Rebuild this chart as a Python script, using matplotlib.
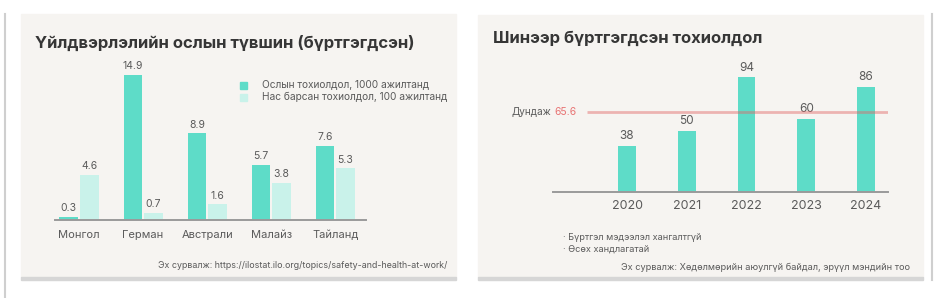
import numpy as np
import matplotlib
matplotlib.use("Agg")
import matplotlib.pyplot as plt
from matplotlib.patches import Rectangle
from matplotlib.lines import Line2D

# ==============================================================================
#                                   Data
# ==============================================================================

countries = ["Монгол", "Герман", "Австрали", "Малайз", "Тайланд"]
accidents_per_1000 = [0.3, 14.9, 8.9, 5.7, 7.6]
deaths_per_100 = [4.6, 0.7, 1.6, 3.8, 5.3]

years = ["2020", "2021", "2022", "2023", "2024"]
new_cases = [38, 50, 94, 60, 86]
avg_cases = 65.6

left_title = "Үйлдвэрлэлийн ослын түвшин (бүртгэгдсэн)"
right_title = "Шинээр бүртгэгдсэн тохиолдол"
legend_labels = ["Ослын тохиолдол, 1000 ажилтанд",
                 "Нас барсан тохиолдол, 100 ажилтанд"]
left_source = "Эх сурвалж: https://ilostat.ilo.org/topics/safety-and-health-at-work/"
right_notes = ["· Бүртгэл мэдээлэл хангалтгүй", "· Өсөх хандлагатай"]
right_source = "Эх сурвалж: Хөдөлмөрийн аюулгүй байдал, эрүүл мэндийн тоо"

# ==============================================================================
#                                   Style
# ==============================================================================

plt.rcParams['font.family'] = ['Inter', 'DejaVu Sans']

W, H = 941, 298
DARK = "#5edcc8"
LIGHT = "#c9f2ea"
PANEL = "#f6f4f1"
TXT = "#5a5a5a"
TITLE = "#363636"


def fx(px):
    return px / W


def fy(py):
    # pixel y measured from the top
    return 1 - py / H


def add_ax(fig, x0, y0, x1, y1):
    """axes from pixel box (top-left origin)"""
    ax = fig.add_axes([fx(x0), fy(y1), fx(x1 - x0), (y1 - y0) / H])
    ax.set_facecolor("none")
    for s in ["top", "right", "left"]:
        ax.spines[s].set_visible(False)
    ax.spines["bottom"].set_color("#9a9a9a")
    ax.spines["bottom"].set_linewidth(1.4)
    ax.set_yticks([])
    ax.tick_params(axis="x", length=0, colors=TXT)
    return ax


fig = plt.figure(figsize=(W / 100, H / 100), dpi=100)
fig.patch.set_facecolor("white")

# panels, shadows and side lines (behind the axes)
for x0, x1, y0 in [(21, 456, 14), (478, 923, 15)]:
    fig.patches.append(Rectangle((fx(x0), fy(277)), fx(x1 - x0), (277 - y0) / H,
                                 transform=fig.transFigure, color=PANEL, zorder=-2))
    fig.patches.append(Rectangle((fx(x0), fy(280)), fx(x1 - x0), 3 / H,
                                 transform=fig.transFigure, color="#d6d6d6", zorder=-2))
fig.add_artist(Line2D([fx(5), fx(5)], [fy(14), fy(298)], color="#cfcfcf", lw=1.5))
fig.add_artist(Line2D([fx(932), fx(932)], [fy(14), fy(280)], color="#cfcfcf", lw=1.5))

# ==============================================================================
#                               Left chart
# ==============================================================================

ax1 = add_ax(fig, 55, 60, 366, 220)
x = np.arange(len(countries))
bw = 0.29
off = 0.16
ax1.bar(x - off, accidents_per_1000, bw, color=DARK, zorder=2)
ax1.bar(x + off, deaths_per_100, bw, color=LIGHT, zorder=2)
for xi, a, d in zip(x, accidents_per_1000, deaths_per_100):
    ax1.text(xi - off, a + 0.4, f"{a}", ha="center", va="bottom",
             fontsize=7.5, color=TXT)
    ax1.text(xi + off, d + 0.4, f"{d}", ha="center", va="bottom",
             fontsize=7.5, color=TXT)
ax1.set_xlim(-0.375, 4.48)
ax1.set_ylim(0, 160 / 9.73)
ax1.set_xticks(x)
ax1.set_xticklabels(countries, fontsize=8)
ax1.tick_params(axis="x", pad=7)

fig.text(fx(35), fy(43), left_title, fontsize=12, fontweight="bold",
         color=TITLE, va="center", ha="left")

for i, (lab, col) in enumerate(zip(legend_labels, [DARK, LIGHT])):
    yc = 85 + i * 12
    fig.patches.append(Rectangle((fx(240), fy(yc + 3.5)), fx(7), 7 / H,
                                 transform=fig.transFigure, color=col))
    fig.text(fx(262), fy(yc), lab, fontsize=7.3, color=TXT, va="center")

fig.text(fx(447), fy(265), left_source, fontsize=6.4, color=TXT,
         ha="right", va="center")

# ==============================================================================
#                               Right chart
# ==============================================================================

ax2 = add_ax(fig, 553, 60, 888, 192)
xr = np.arange(len(years))
ax2.bar(xr, new_cases, 0.3, color=DARK, zorder=2)
for xi, v in zip(xr, new_cases):
    ax2.text(xi, v + 3, f"{v}", ha="center", va="bottom", fontsize=8.5,
             color=TXT)
ax2.set_xlim(-1.24, 4.37)
ax2.set_ylim(0, 132 / 1.22)
ax2.hlines(avg_cases, -0.67, 4.37, color="#e06565", alpha=0.45, lw=2, zorder=3)
ax2.text(-0.84, avg_cases, "65.6", ha="right", va="center", fontsize=7.5,
         color="#e87474")
ax2.text(-1.27, avg_cases, "Дундаж", ha="right", va="center", fontsize=7.2,
         color=TXT)
ax2.set_xticks(xr)
ax2.set_xticklabels(years, fontsize=9)
ax2.tick_params(axis="x", pad=6)

fig.text(fx(493), fy(38), right_title, fontsize=12, fontweight="bold",
         color=TITLE, va="center", ha="left")

for i, note in enumerate(right_notes):
    fig.text(fx(563), fy(237 + i * 12), note, fontsize=6.6, color=TXT,
             va="center", ha="left")
fig.text(fx(910), fy(267), right_source, fontsize=6.6, color=TXT,
         ha="right", va="center")

fig.savefig("out.png", dpi=100)
